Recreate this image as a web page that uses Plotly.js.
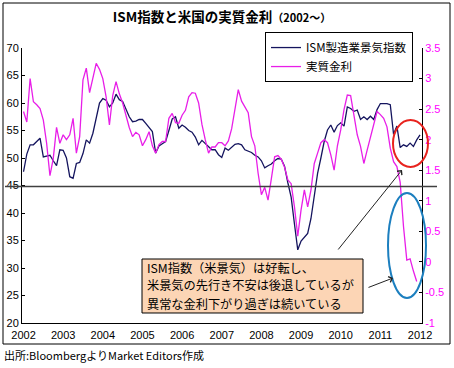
<!DOCTYPE html>
<html>
<head>
<meta charset="utf-8">
<script src="https://cdn.plot.ly/plotly-3.0.1.min.js"></script>
<style>
html,body{margin:0;padding:0;background:#fff;}
#chart{width:454px;height:368px;}
</style>
</head>
<body>
<div id="chart"></div>
<script>
// Monthly data, Jan 2002 .. Jan 2012
const startYear = 2002;
const ismValues = [
  47.5, 50.7, 52.4, 52.4, 53.0, 53.6, 50.2, 50.3, 50.5, 49.5, 48.6, 51.5,
  51.4, 50.0, 46.6, 46.3, 49.0, 49.2, 50.8, 53.3, 52.7, 54.5, 57.5, 60.0,
  60.8, 60.5, 59.3, 60.0, 61.6, 60.6, 60.3, 59.0, 57.5, 56.6, 56.7, 57.0,
  57.0, 56.3, 55.5, 54.8, 50.9, 52.2, 52.6, 53.0, 55.0, 57.1, 57.5, 55.4,
  56.0, 55.6, 55.0, 54.7, 53.8, 52.4, 53.2, 52.6, 52.0, 51.5, 51.5, 50.6,
  50.1, 51.8, 51.4, 52.0, 52.5, 52.6, 52.4, 51.5, 51.2, 51.0, 50.5, 50.2,
  49.5, 48.2, 48.6, 48.9, 49.5, 49.9, 49.8, 48.5, 45.5, 42.9, 38.0, 33.3,
  34.9, 35.7, 36.3, 39.0, 42.7, 47.2, 50.0, 53.0, 55.1, 56.0, 54.7, 55.9,
  56.4, 55.8, 59.3, 59.0, 58.5, 58.7, 57.0, 57.5, 57.0, 57.6, 57.0, 58.8,
  59.9, 59.9, 59.9, 59.7, 54.3, 55.8, 51.9, 52.4, 52.1, 52.7, 52.1, 53.3,
  54.2
];
const realRateValues = [
  2.46, 2.29, 3.00, 2.62, 2.57, 2.51, 2.32, 1.94, 1.41, 1.69, 2.20, 1.94,
  2.08, 2.00, 2.08, 2.35, 1.78, 2.05, 2.98, 3.17, 2.77, 3.00, 3.25, 3.15,
  3.00, 2.70, 2.24, 2.72, 2.95, 2.75, 2.60, 2.40, 2.20, 2.05, 2.12, 2.08,
  1.90, 2.00, 2.13, 1.90, 1.78, 1.92, 1.97, 1.97, 2.35, 2.43, 2.28, 2.27,
  2.40, 2.48, 2.70, 2.77, 2.76, 2.60, 2.25, 2.00, 1.78, 1.88, 1.88, 1.95,
  1.95, 1.90, 1.98, 2.18, 2.50, 2.82, 2.63, 2.53, 2.44, 2.05, 1.90, 1.45,
  1.10, 1.22, 1.01, 1.36, 1.72, 1.74, 1.68, 1.55, 1.34, 1.28, 0.90, 0.42,
  0.85, 1.18, 0.90, 1.18, 1.61, 1.78, 1.95, 2.00, 1.95, 1.75, 1.50, 1.90,
  2.16, 2.49, 2.73, 2.72, 2.38, 2.08, 1.89, 1.61, 1.83, 2.05, 2.27, 2.46,
  2.41, 2.35, 2.21, 1.86, 1.64, 1.56, 1.30, 0.58, 0.03, 0.05, -0.15, -0.32
];
const xTickVals = [2002, 2003, 2004, 2005, 2006, 2007, 2008, 2009, 2010, 2011, 2012];
const xTickText = ['2002','2003','2004','2005','2006','2007','2008','2009','2010','2011','2012'];
const leftTickVals = [20, 25, 30, 35, 40, 45, 50, 55, 60, 65, 70];
const rightTickVals = [-1, -0.5, 0, 0.5, 1, 1.5, 2, 2.5, 3, 3.5];
const rightTickText = ['-1', '-0.5', '0', '0.5', '1', '1.5', '2', '2.5', '3', '3.5'];
const seriesNames = ['ISM製造業景気指数', '実質金利'];
const titleText = 'ISM指数と米国の実質金利<span style="font-size:11px">（2002～）</span>';
const noteLines = ['ISM指数（米景気）は好転し、', '米景気の先行き不安は後退しているが', '異常な金利下がり過ぎは続いている'];
const sourceText = '出所:BloombergよりMarket Editors作成';
const thresholdLevel = 44.8;

const xIsm = ismValues.map((_, i) => startYear + i / 12);
const xRate = realRateValues.map((_, i) => startYear + i / 12);

const cjk = '"Noto Sans CJK JP", "Noto Sans", sans-serif';
const num = '"Liberation Sans", Arial, sans-serif';

const traces = [
  {x: xIsm, y: ismValues, type: 'scatter', mode: 'lines', name: seriesNames[0],
   line: {color: '#14145e', width: 1.3}, yaxis: 'y'},
  {x: xRate, y: realRateValues, type: 'scatter', mode: 'lines', name: seriesNames[1],
   line: {color: '#e81ee8', width: 1.3}, yaxis: 'y2'}
];

const noteLineY = [0.2018, 0.1364, 0.0709];
const noteAnnotations = noteLines.map((t, k) => ({
  xref: 'paper', yref: 'paper', x: 0.3075, y: noteLineY[k], xanchor: 'left', yanchor: 'middle',
  text: t, showarrow: false, font: {family: cjk, size: 12.2, color: '#000'}
}));

const layout = {
  width: 454, height: 368,
  margin: {l: 22, r: 32, t: 48, b: 45},
  paper_bgcolor: '#fff', plot_bgcolor: '#fff',
  showlegend: true,
  title: {text: titleText, x: 0.5, xref: 'paper', xanchor: 'center', y: 0.953, yanchor: 'middle',
          font: {family: cjk, size: 13.5, color: '#000', weight: 'bold'}},
  xaxis: {range: [2001.962, 2012.05], tickvals: xTickVals, ticktext: xTickText,
          showline: true, linecolor: '#000', linewidth: 1, ticks: '', showgrid: false, zeroline: false,
          ticklabelstandoff: 2,
          tickfont: {family: num, size: 11, color: '#000'}},
  yaxis: {range: [20, 70], tickvals: leftTickVals, showline: true, linecolor: '#000', linewidth: 1,
          ticks: 'inside', ticklen: 3, tickcolor: '#000', showgrid: false, zeroline: false,
          tickfont: {family: num, size: 11, color: '#000'}},
  yaxis2: {range: [-1, 3.5], tickvals: rightTickVals, ticktext: rightTickText, overlaying: 'y', side: 'right',
           showline: true, linecolor: '#000', linewidth: 1, ticks: 'inside', ticklen: 3, tickcolor: '#000',
           showgrid: false, zeroline: false,
           tickfont: {family: num, size: 11, color: '#ff00ff'}},
  legend: {x: 0.6075, y: 1.058, xanchor: 'left', yanchor: 'top', xref: 'paper', yref: 'paper',
           bgcolor: '#fff', bordercolor: '#000', borderwidth: 1,
           font: {family: cjk, size: 11.5, color: '#000'}, tracegroupgap: 0},
  shapes: [
    {type: 'rect', xref: 'paper', yref: 'paper', x0: -0.0475, x1: 1.07, y0: -0.0764, y1: 1.1636,
     line: {color: '#000', width: 1}, fillcolor: 'rgba(0,0,0,0)', layer: 'below'},
    {type: 'line', xref: 'paper', yref: 'y', x0: -0.0425, x1: 1.0375, y0: thresholdLevel, y1: thresholdLevel,
     line: {color: '#404040', width: 1.5}},
    {type: 'circle', xref: 'paper', yref: 'paper', x0: 0.9275, x1: 1.015, y0: 0.567, y1: 0.738,
     line: {color: '#e8231e', width: 2}},
    {type: 'circle', xref: 'paper', yref: 'paper', x0: 0.915, x1: 1.01, y0: 0.0909, y1: 0.4727,
     line: {color: '#1c7fbf', width: 2}},
    {type: 'rect', xref: 'paper', yref: 'paper', x0: 0.3, x1: 0.8525, y0: 0.0364, y1: 0.2327,
     line: {color: '#000', width: 1}, fillcolor: '#fcd5b5', layer: 'above'}
  ],
  annotations: noteAnnotations.concat([
    {xref: 'paper', yref: 'paper', x: 0.95, y: 0.5564, ax: -65, ay: 81, text: '', showarrow: true,
     arrowhead: 4, arrowsize: 1.2, arrowwidth: 1, arrowcolor: '#222'},
    {xref: 'paper', yref: 'paper', x: 0.9275, y: 0.1636, ax: -26, ay: 10, text: '', showarrow: true,
     arrowhead: 4, arrowsize: 1.2, arrowwidth: 1, arrowcolor: '#222'},
    {xref: 'paper', yref: 'paper', x: -0.05, y: -0.1164, xanchor: 'left', yanchor: 'middle',
     text: sourceText, showarrow: false, font: {family: cjk, size: 11, color: '#000'}}
  ])
};

Plotly.newPlot('chart', traces, layout, {displayModeBar: false, staticPlot: true});
</script>
</body>
</html>
